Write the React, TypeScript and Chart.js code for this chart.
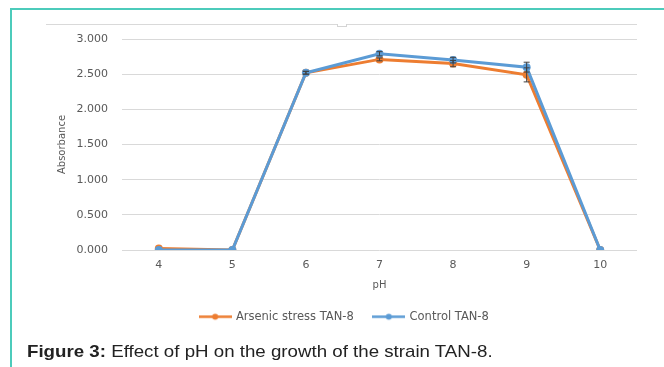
import React, { useEffect, useRef } from "react";
import { Chart, registerables } from "chart.js";

Chart.register(...registerables);

const phLabels = ["4", "5", "6", "7", "8", "9", "10"];
const arsenicValues = [0.02, 0.0, 2.52, 2.71, 2.65, 2.49, 0.0];
const controlValues = [0.0, 0.0, 2.52, 2.79, 2.70, 2.60, 0.0];
const arsenicErrors = [0, 0, 0.02, 0.02, 0.045, 0.1, 0];
const controlErrors = [0, 0, 0.02, 0.03, 0.04, 0.07, 0];
const yTicks = [0, 0.5, 1, 1.5, 2, 2.5, 3];

const ORANGE = "#ED7D31";
const BLUE = "#5B9BD5";
const TEXT = "#595959";
const FONT = "'DejaVu Sans', sans-serif";

function legendImage(color: string): HTMLCanvasElement {
  const c = document.createElement("canvas");
  c.width = 33;
  c.height = 9;
  const ctx = c.getContext("2d")!;
  ctx.strokeStyle = color;
  ctx.lineWidth = 2.5;
  ctx.beginPath();
  ctx.moveTo(0, 4.5);
  ctx.lineTo(33, 4.5);
  ctx.stroke();
  ctx.fillStyle = color;
  ctx.beginPath();
  ctx.arc(16.5, 4.5, 3, 0, Math.PI * 2);
  ctx.fill();
  return c;
}

const errorBarPlugin = {
  id: "errorBars",
  afterDatasetsDraw(chart: any) {
    const ctx = chart.ctx;
    const yScale = chart.scales.y;
    chart.data.datasets.forEach((ds: any, di: number) => {
      const meta = chart.getDatasetMeta(di);
      const errs: number[] = ds.errors || [];
      ctx.save();
      ctx.strokeStyle = "#404040";
      ctx.lineWidth = 1;
      meta.data.forEach((pt: any, i: number) => {
        const e = errs[i];
        if (!e) return;
        const v = ds.data[i];
        const x = pt.x;
        const yTop = yScale.getPixelForValue(v + e);
        const yBot = yScale.getPixelForValue(v - e);
        ctx.beginPath();
        ctx.moveTo(x, yTop);
        ctx.lineTo(x, yBot);
        ctx.moveTo(x - 3, yTop);
        ctx.lineTo(x + 3, yTop);
        ctx.moveTo(x - 3, yBot);
        ctx.lineTo(x + 3, yBot);
        ctx.stroke();
      });
      ctx.restore();
    });
  },
};

export default function App() {
  const ref = useRef<HTMLCanvasElement>(null);

  useEffect(() => {
    if (!ref.current) return;
    const imgs = [legendImage(ORANGE), legendImage(BLUE)];
    const chart = new Chart(ref.current, {
      type: "line",
      data: {
        labels: phLabels,
        datasets: [
          {
            label: "Arsenic stress TAN-8",
            data: arsenicValues,
            errors: arsenicErrors,
            borderColor: ORANGE,
            backgroundColor: ORANGE,
            borderWidth: 3,
            pointRadius: 4,
            pointBorderWidth: 0,
            pointBackgroundColor: ORANGE,
            tension: 0,
            order: 2,
          } as any,
          {
            label: "Control TAN-8",
            data: controlValues,
            errors: controlErrors,
            borderColor: BLUE,
            backgroundColor: BLUE,
            borderWidth: 3,
            pointRadius: 4,
            pointBorderWidth: 0,
            pointBackgroundColor: BLUE,
            tension: 0,
            order: 1,
          } as any,
        ],
      },
      options: {
        responsive: false,
        animation: false,
        devicePixelRatio: 1,
        layout: { padding: { left: 52, right: 27, top: 39, bottom: 34.5 } },
        plugins: {
          tooltip: { enabled: false },
          legend: {
            display: true,
            position: "bottom",
            labels: {
              usePointStyle: true,
              pointStyleWidth: 30,
              padding: 20,
              color: TEXT,
              font: { family: FONT, size: 11.5 },
              generateLabels: (ch: any) =>
                ch.data.datasets.map((ds: any, i: number) => ({
                  text: ds.label,
                  pointStyle: imgs[i],
                  fillStyle: ds.borderColor,
                  strokeStyle: ds.borderColor,
                  lineWidth: 0,
                  hidden: false,
                  datasetIndex: i,
                  fontColor: TEXT,
                })),
            },
          },
        },
        scales: {
          x: {
            type: "category",
            offset: true,
            grid: { display: false, drawTicks: false },
            border: { display: false },
            ticks: { color: TEXT, padding: 9, font: { family: FONT, size: 11 } },
            title: {
              display: true,
              text: "pH",
              color: TEXT,
              font: { family: FONT, size: 10 },
              padding: { top: 0, bottom: 0 },
            },
            afterFit: (s: any) => {
              s.height = 41;
            },
          },
          y: {
            min: 0,
            max: 3,
            afterBuildTicks: (s: any) => {
              s.ticks = yTicks.map((v) => ({ value: v }));
            },
            grid: { color: "#d9d9d9", lineWidth: 1, drawTicks: false },
            border: { display: false },
            ticks: {
              color: TEXT,
              padding: 14,
              font: { family: FONT, size: 11 },
              callback: (v: any) => Number(v).toFixed(3),
            },
            title: {
              display: true,
              text: "Absorbance",
              color: TEXT,
              font: { family: FONT, size: 10 },
              padding: { top: 4, bottom: 0 },
            },
            afterFit: (s: any) => {
              s.width = 70;
            },
          },
        },
      } as any,
      plugins: [errorBarPlugin],
    });
    return () => chart.destroy();
  }, []);

  return (
    <div
      style={{
        position: "fixed",
        left: 0,
        top: 0,
        width: 664,
        height: 367,
        overflow: "hidden",
        background: "#ffffff",
      }}
    >
      <div
        style={{
          position: "absolute",
          left: 10,
          top: 8,
          width: 700,
          height: 400,
          borderTop: "2px solid #4ccbbb",
          borderLeft: "2px solid #4ccbbb",
        }}
      />
      <div
        style={{
          position: "absolute",
          left: 46,
          top: 24,
          width: 591,
          height: 1,
          background: "#d9d9d9",
        }}
      />
      <div
        style={{
          position: "absolute",
          left: 337,
          top: 24,
          width: 8,
          height: 2,
          background: "#fff",
          border: "1px solid #d4d4d4",
          borderTop: "none",
        }}
      />
      <canvas
        ref={ref}
        width={664}
        height={367}
        style={{ position: "absolute", left: 0, top: 0, width: 664, height: 367 }}
      />
      <div
        style={{
          position: "absolute",
          left: 27,
          top: 341,
          fontFamily: "'Liberation Sans', Arial, sans-serif",
          fontSize: 17,
          lineHeight: "22px",
          color: "#222",
          whiteSpace: "nowrap",
          transform: "scaleX(1.1)",
          transformOrigin: "left center",
        }}
      >
        <b>Figure 3:</b> Effect of pH on the growth of the strain TAN-8.
      </div>
    </div>
  );
}
